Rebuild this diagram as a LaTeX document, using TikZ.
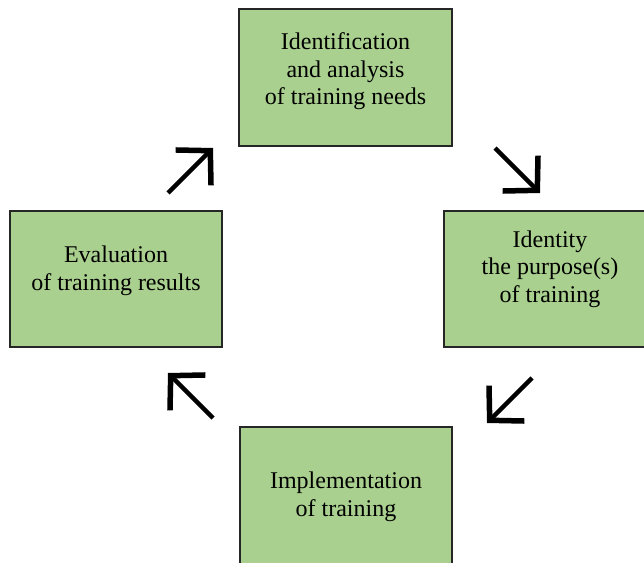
\documentclass[tikz,border=0pt]{standalone}
\usepackage{fontspec}
\setmainfont{Liberation Serif}
\usepackage{tikz}
\usetikzlibrary{arrows.meta}
\tikzset{>={Straight Barb[length=24pt,width=50pt,line width=5.5pt 0,sharp]}}
\definecolor{boxgreen}{HTML}{A9D08E}
\definecolor{boxline}{HTML}{262626}
\tikzset{
  stage/.style={draw=boxline, line width=2.5pt, fill=boxgreen,
    minimum width=212pt, minimum height=136pt},
  caption/.style={align=center, font=\fontsize{24}{27.5}\selectfont},
  cyc/.style={->, line width=4.5pt, black}
}

\begin{document}
\begin{tikzpicture}[x=1pt,y=1pt]

  \useasboundingbox (0,0) rectangle (644,562);
  \clip (0,0) rectangle (644,562);

  \node[stage, minimum width=213pt, minimum height=137pt] (needs) at (345.5,484.5) {};
  \node[stage] (purpose) at (550,283) {};
  \node[stage, minimum height=140pt] (impl) at (346,65) {};
  \node[stage] (eval) at (116,283) {};

  \node[caption] (needs-t) at ([yshift=6pt]needs.center)
  {Identification\\and analysis\\of training needs};
  \node[caption] (purpose-t) at ([yshift=10pt]purpose.center)
  {Identity\\the purpose(s)\\of training};
  \node[caption] (impl-t) at (impl.center) {Implementation\\of training};
  \node[caption] (eval-t) at ([yshift=8pt]eval.center)
  {Evaluation\\of training results};

  % free-standing arrows between the boxes
  \coordinate (a1) at (168,369);  \coordinate (b1) at (213,414);
  \coordinate (a2) at (495,414);  \coordinate (b2) at (540,369);
  \coordinate (a3) at (532,184);  \coordinate (b3) at (487,139);
  \coordinate (a4) at (213,144);  \coordinate (b4) at (168,189);

  \draw[cyc] (a1) -- (b1);
  \draw[cyc] (a2) -- (b2);
  \draw[cyc] (a3) -- (b3);
  \draw[cyc] (a4) -- (b4);

\end{tikzpicture}
\end{document}
